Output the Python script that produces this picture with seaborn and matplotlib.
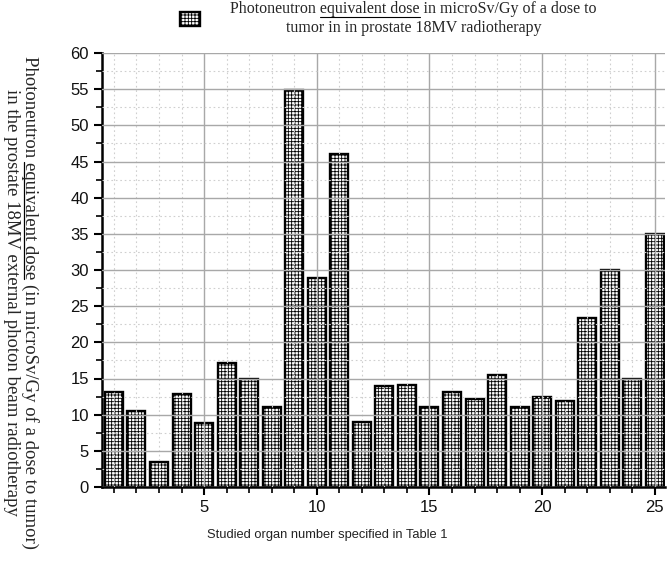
import matplotlib
matplotlib.use("Agg")
import matplotlib.pyplot as plt
from matplotlib.lines import Line2D
from matplotlib.ticker import MultipleLocator
import seaborn as sns

# Photoneutron equivalent dose per organ
organ = list(range(1, 26))
dose = [13.2, 10.5, 3.4, 12.9, 8.8, 17.1, 14.9, 11.0, 54.9, 28.9,
        46.0, 9.0, 13.9, 14.1, 11.1, 13.1, 12.1, 15.5, 11.1, 12.5,
        11.9, 23.4, 30.0, 15.0, 35.0]

leg_line1 = "Photoneutron equivalent dose in microSv/Gy of a dose to"
leg_line2 = "tumor in in prostate 18MV radiotherapy"
ylab_line1 = "Photoneutron equivalent dose (in microSv/Gy of a dose to tumor)"
ylab_line2 = "in the prostate 18MV external photon beam radiotherapy"
underlined = "equivalent dose"
x_label = "Studied organ number specified in Table 1"

sns.set_style("white")
plt.rcParams["font.family"] = ["Liberation Sans", "DejaVu Sans"]
plt.rcParams["hatch.linewidth"] = 0.6

serif = "Liberation Serif"
leg_size = 11.5
ylab_size = 13.5

fig = plt.figure(figsize=(6.7, 5.63), dpi=100)
ax = fig.add_axes([102 / 670, 1 - 487 / 563, (665 - 102) / 670, (487 - 53) / 563])

sns.barplot(x=organ, y=dose, native_scale=True, color="white", edgecolor="black",
            linewidth=1.7, width=0.8, ax=ax, label=leg_line1 + "\n" + leg_line2)
for p in ax.patches:
    p.set_hatch("+++++")

ax.set_xlim(0.47, 25.45)
ax.set_ylim(0, 60)
ax.xaxis.set_major_locator(MultipleLocator(5))
ax.xaxis.set_minor_locator(MultipleLocator(1))
ax.yaxis.set_major_locator(MultipleLocator(5))
ax.yaxis.set_minor_locator(MultipleLocator(2.5))

ax.set_axisbelow(False)
ax.grid(which="major", color="#a8a8a8", linewidth=1.0)
ax.grid(which="minor", color="#cfcfcf", linewidth=0.8, linestyle=(0, (1.5, 2.5)))

for s in ["top", "right"]:
    ax.spines[s].set_visible(False)
for s in ["left", "bottom"]:
    ax.spines[s].set_color("black")
    ax.spines[s].set_linewidth(1.8)

ax.tick_params(which="major", direction="out", length=6, width=1.5,
               color="black", labelsize=12, labelcolor="#111111")
ax.tick_params(which="minor", direction="out", length=4, width=1.2, color="black")
ax.tick_params(axis="x", which="both", bottom=True)
ax.tick_params(axis="y", which="both", left=True)

ax.set_xlabel(x_label, fontsize=9.3, color="#222222")
ax.xaxis.set_label_coords((327 - 102) / 563, -(529 - 487) / 434)
ax.set_ylabel("")

ylab = fig.text(21 / 670, 1 - 302 / 563, ylab_line1 + "\n" + ylab_line2, rotation=-90,
                ha="center", va="center", multialignment="center", family=serif,
                fontsize=ylab_size, linespacing=1.1)

leg = ax.legend(loc="upper left", bbox_to_anchor=(180 / 670, 1 - 1 / 563),
                bbox_transform=fig.transFigure, frameon=False, borderpad=0,
                borderaxespad=0, handlelength=1.25, handleheight=0.95,
                handletextpad=1.9, prop={"family": serif, "size": leg_size})
for t in leg.get_texts():
    t.set_multialignment("center")
    t.set_linespacing(1.25)

# underline "equivalent dose" in the legend and the y label
fig.canvas.draw()
renderer = fig.canvas.get_renderer()


def text_len(s, size):
    t = fig.text(0, 0, s, family=serif, fontsize=size)
    w = t.get_window_extent(renderer).width
    t.remove()
    return w


def underline_span(line1, line2, size):
    full = text_len(line1, size)
    block = max(full, text_len(line2, size))
    end = text_len(line1.split(underlined)[0] + underlined, size)
    start = end - text_len(underlined, size)
    off = (block - full) / 2
    return off + start, off + end


px = fig.dpi / 72.0
lb = leg.get_texts()[0].get_window_extent(renderer)
a, b = underline_span(leg_line1, leg_line2, leg_size)
uy = lb.y1 - 0.98 * leg_size * px
fig.add_artist(Line2D([lb.x0 + a, lb.x0 + b], [uy, uy], transform=None,
                      color="black", linewidth=0.8))

yb = ylab.get_window_extent(renderer)
a, b = underline_span(ylab_line1, ylab_line2, ylab_size)
ux = yb.x1 - 0.78 * ylab_size * px
fig.add_artist(Line2D([ux, ux], [yb.y1 - a, yb.y1 - b], transform=None,
                      color="black", linewidth=0.9))

fig.savefig("out.png", dpi=100)
